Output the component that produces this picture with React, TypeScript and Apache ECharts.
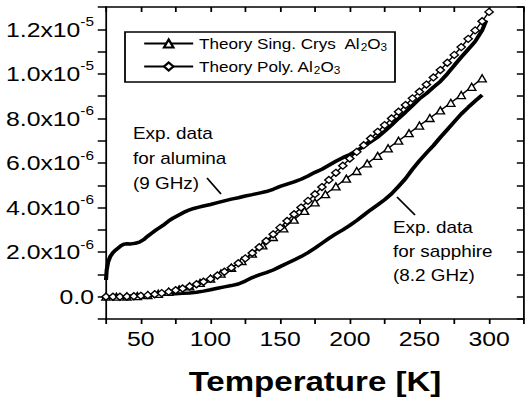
import React, { useEffect, useRef } from "react";
import * as echarts from "echarts";

// Loss values below are given in units of 1e-6.
const UNIT = 1e-6;

// Theory, polycrystalline Al2O3 (diamonds)
const polyTemps = [
  25, 30, 35, 40, 45, 50, 55, 60, 65, 70, 75, 80, 85, 90, 95, 100, 105, 110, 115, 120,
  125, 130, 135, 140, 145, 150, 155, 160, 165, 170, 175, 180, 185, 190, 195, 200, 205,
  210, 215, 220, 225, 230, 235, 240, 245, 250, 255, 260, 265, 270, 275, 280, 285, 290,
  295, 300,
];
const polyTheory = [
  0.0, 0.0, 0.0, 0.01, 0.02, 0.04, 0.07, 0.11, 0.16, 0.22, 0.29, 0.37, 0.46, 0.56, 0.67,
  0.8, 0.95, 1.12, 1.3, 1.5, 1.72, 1.96, 2.22, 2.5, 2.8, 3.1, 3.4, 3.7, 4.0, 4.3, 4.6,
  4.92, 5.24, 5.56, 5.88, 6.2, 6.5, 6.8, 7.1, 7.4, 7.7, 8.0, 8.3, 8.6, 8.9, 9.2, 9.52,
  9.84, 10.17, 10.5, 10.85, 11.2, 11.57, 11.95, 12.36, 12.78,
];

// Theory, single crystal Al2O3 (triangles)
const singTemps = [
  25, 32.5, 40, 47.5, 55, 62.5, 70, 77.5, 85, 92.5, 100, 107.5, 115, 122.5, 130, 137.5,
  145, 152.5, 160, 167.5, 175, 182.5, 190, 197.5, 205, 212.5, 220, 227.5, 235, 242.5,
  250, 257.5, 265, 272.5, 280, 287.5, 295,
];
const singTheory = [
  0.0, 0.0, 0.01, 0.03, 0.07, 0.13, 0.22, 0.33, 0.46, 0.62, 0.81, 1.04, 1.3, 1.6, 1.93,
  2.3, 2.68, 3.07, 3.46, 3.85, 4.23, 4.6, 4.95, 5.3, 5.64, 5.98, 6.32, 6.66, 7.0, 7.34,
  7.68, 8.02, 8.36, 8.7, 9.05, 9.42, 9.8,
];

// Measured, alumina at 9 GHz
const aluminaTemps = [
  25, 25.5, 26.5, 28, 30, 32, 34, 36, 38, 40, 43, 46, 49, 52, 55, 58, 61, 64, 67, 70, 73,
  76, 79, 82, 85, 88, 91, 95, 100, 105, 110, 115, 120, 125, 130, 135, 140, 145, 150, 155,
  160, 165, 170, 175, 180, 185, 190, 195, 200, 205, 210, 215, 220, 225, 230, 235, 240,
  245, 250, 255, 260, 265, 270, 275, 280, 285, 290, 295, 298,
];
const aluminaExp = [
  0.75, 1.2, 1.55, 1.8, 1.98, 2.1, 2.2, 2.3, 2.36, 2.38, 2.37, 2.4, 2.45, 2.56, 2.72,
  2.86, 3.0, 3.12, 3.25, 3.4, 3.52, 3.62, 3.72, 3.82, 3.9, 3.96, 4.01, 4.07, 4.14, 4.22,
  4.3, 4.38, 4.44, 4.52, 4.58, 4.65, 4.72, 4.82, 4.95, 5.05, 5.15, 5.27, 5.42, 5.58,
  5.72, 5.9, 6.08, 6.24, 6.38, 6.55, 6.75, 6.95, 7.16, 7.42, 7.7, 8.0, 8.28, 8.58, 8.88,
  9.12, 9.4, 9.66, 10.0, 10.38, 10.75, 11.1, 11.45, 11.95, 12.4,
];

// Measured, sapphire at 8.2 GHz
const sapphireTemps = [
  25, 30, 35, 40, 45, 50, 55, 60, 65, 70, 75, 80, 85, 90, 95, 100, 105, 110, 115, 120,
  125, 130, 135, 140, 145, 150, 155, 160, 165, 170, 175, 180, 185, 190, 195, 200, 205,
  210, 215, 220, 225, 230, 235, 240, 245, 250, 255, 260, 265, 270, 275, 280, 285, 290,
  295,
];
const sapphireExp = [
  -0.02, 0.0, -0.03, 0.02, 0.03, 0.0, 0.05, 0.08, 0.1, 0.12, 0.13, 0.15, 0.17, 0.2, 0.25,
  0.31, 0.38, 0.44, 0.5, 0.57, 0.7, 0.86, 0.98, 1.08, 1.2, 1.35, 1.5, 1.65, 1.8, 1.98,
  2.18, 2.4, 2.62, 2.82, 3.0, 3.2, 3.42, 3.66, 3.9, 4.12, 4.35, 4.62, 4.95, 5.3, 5.72,
  6.1, 6.45, 6.78, 7.15, 7.5, 7.85, 8.2, 8.5, 8.78, 9.05,
];

const xTickLabels = [50, 100, 150, 200, 250, 300];

const SING_NAME = "Theory Sing. Crys  Al2O3";
const POLY_NAME = "Theory Poly. Al2O3";

// The drawing is laid out narrower and stretched horizontally by S.
const S = 1.18;
const W = 527;
const H = 406;
const IW = W / S;
const px = (x: number) => x / S;

const FONT = "'Liberation Sans', Arial, Helvetica, sans-serif";

function yLabel(v: number): string {
  const n = Math.round(v / UNIT);
  if (n % 2 !== 0) return "";
  if (n === 0) return "{b|0.0}";
  if (n >= 10) return `{b|${(n / 10).toFixed(1)}x10}{s|-5}`;
  return `{b|${n.toFixed(1)}x10}{s|-6}`;
}

export default function App() {
  const ref = useRef<HTMLDivElement>(null);

  useEffect(() => {
    if (!ref.current) return;
    const chart = echarts.init(ref.current, null, { renderer: "svg" });
    const pairs = (ts: number[], vs: number[]) => ts.map((t, i) => [t, vs[i] * UNIT]);

    const blackLine = { color: "#000", width: 1.5 };
    const xCommon = {
      type: "value",
      gridIndex: 0,
      min: 25,
      max: 325,
      interval: 25,
      splitLine: { show: false },
    };
    const yCommon = {
      type: "value",
      gridIndex: 0,
      min: -1 * UNIT,
      max: 13 * UNIT,
      interval: 1 * UNIT,
      splitLine: { show: false },
    };

    const labelText = (text: string, x: number, y: number) => ({
      type: "text",
      x: px(x),
      y,
      style: {
        text,
        fontSize: 16,
        fontFamily: FONT,
        fill: "#000",
        align: "left",
        verticalAlign: "middle",
      },
    });

    const option: any = {
      animation: false,
      backgroundColor: "#fff",
      textStyle: { fontFamily: FONT, color: "#000" },
      grid: {
        left: px(106),
        top: 7,
        width: px(529 - 106),
        height: 312,
        containLabel: false,
      },
      legend: {
        data: [SING_NAME, POLY_NAME],
        orient: "vertical",
        left: px(143),
        top: 36,
        padding: 0,
        itemWidth: px(49),
        itemHeight: 10,
        itemGap: 7,
        selectedMode: false,
        formatter: (name: string) =>
          name === SING_NAME
            ? "{n|Theory Sing. Crys  Al}{s|2}{n|O}{s|3}"
            : "{n|Theory Poly. Al}{s|2}{n|O}{s|3}",
        textStyle: {
          fontFamily: FONT,
          color: "#000",
          rich: {
            n: { fontSize: 14.5, lineHeight: 18, fontFamily: FONT, color: "#000" },
            s: { fontSize: 10, padding: [7, 0, 0, 0], fontFamily: FONT, color: "#000" },
          },
        },
      },
      xAxis: [
        {
          ...xCommon,
          position: "bottom",
          axisLine: { show: true, onZero: false, lineStyle: blackLine },
          axisTick: { show: true, inside: false, length: 5, lineStyle: blackLine },
          axisLabel: {
            show: true,
            margin: 9,
            fontSize: 21,
            fontFamily: FONT,
            color: "#000",
            formatter: (v: number) => (xTickLabels.includes(v) ? String(v) : ""),
          },
          name: "Temperature [K]",
          nameLocation: "middle",
          nameGap: 48,
          nameTextStyle: { fontSize: 28, fontWeight: "bold", fontFamily: FONT, color: "#000" },
        },
        {
          ...xCommon,
          position: "top",
          axisLine: { show: true, onZero: false, lineStyle: blackLine },
          axisTick: { show: true, inside: true, length: 5, lineStyle: blackLine },
          axisLabel: { show: false },
        },
      ],
      yAxis: [
        {
          ...yCommon,
          position: "left",
          axisLine: { show: true, onZero: false, lineStyle: blackLine },
          axisTick: { show: true, inside: false, length: 7, lineStyle: blackLine },
          axisLabel: {
            show: true,
            margin: px(12),
            fontFamily: FONT,
            color: "#000",
            formatter: yLabel,
            rich: {
              b: { fontSize: 21, fontFamily: FONT, color: "#000" },
              s: { fontSize: 13, padding: [0, 0, 16, 0], fontFamily: FONT, color: "#000" },
            },
          },
        },
        {
          ...yCommon,
          position: "right",
          axisLine: { show: true, onZero: false, lineStyle: blackLine },
          axisTick: { show: true, inside: true, length: 6, lineStyle: blackLine },
          axisLabel: { show: false },
        },
      ],
      graphic: [
        {
          type: "rect",
          shape: { x: px(125), y: 32, width: px(395 - 125), height: 50 },
          style: { fill: "none", stroke: "#000", lineWidth: 1.5 },
          z: 10,
        },
        labelText("Exp. data", 133, 134),
        labelText("for alumina", 133, 159),
        labelText("(9 GHz)", 133, 184),
        {
          type: "line",
          shape: { x1: px(207), y1: 178, x2: px(221), y2: 194 },
          style: { stroke: "#000", lineWidth: 1.5 },
        },
        labelText("Exp. data", 393, 228),
        labelText("for sapphire", 393, 252),
        labelText("(8.2 GHz)", 393, 276),
        {
          type: "line",
          shape: { x1: px(415), y1: 215, x2: px(397), y2: 197 },
          style: { stroke: "#000", lineWidth: 1.5 },
        },
      ],
      series: [
        {
          name: "Exp. data for sapphire (8.2 GHz)",
          type: "line",
          xAxisIndex: 0,
          yAxisIndex: 0,
          data: pairs(sapphireTemps, sapphireExp),
          symbol: "none",
          lineStyle: { color: "#000", width: 3.5 },
          z: 3,
        },
        {
          name: "Exp. data for alumina (9 GHz)",
          type: "line",
          xAxisIndex: 0,
          yAxisIndex: 0,
          data: pairs(aluminaTemps, aluminaExp),
          symbol: "none",
          lineStyle: { color: "#000", width: 3.5 },
          z: 3,
        },
        {
          name: SING_NAME,
          type: "line",
          xAxisIndex: 0,
          yAxisIndex: 0,
          data: pairs(singTemps, singTheory),
          symbol: "triangle",
          symbolSize: 7,
          showAllSymbol: true,
          itemStyle: { color: "#fff", borderColor: "#000", borderWidth: 1.3 },
          lineStyle: { color: "#000", width: 1.3 },
          z: 4,
        },
        {
          name: POLY_NAME,
          type: "line",
          xAxisIndex: 0,
          yAxisIndex: 0,
          data: pairs(polyTemps, polyTheory),
          symbol: "diamond",
          symbolSize: 7,
          showAllSymbol: true,
          itemStyle: { color: "#fff", borderColor: "#000", borderWidth: 1.3 },
          lineStyle: { color: "#000", width: 1.3 },
          z: 4,
        },
      ],
    };

    chart.setOption(option);
    return () => chart.dispose();
  }, []);

  return (
    <div
      style={{
        position: "fixed",
        left: 0,
        top: 0,
        width: W,
        height: H,
        overflow: "hidden",
        background: "#fff",
      }}
    >
      <div
        ref={ref}
        style={{
          width: IW,
          height: H,
          transform: `scaleX(${S})`,
          transformOrigin: "0 0",
        }}
      />
    </div>
  );
}
